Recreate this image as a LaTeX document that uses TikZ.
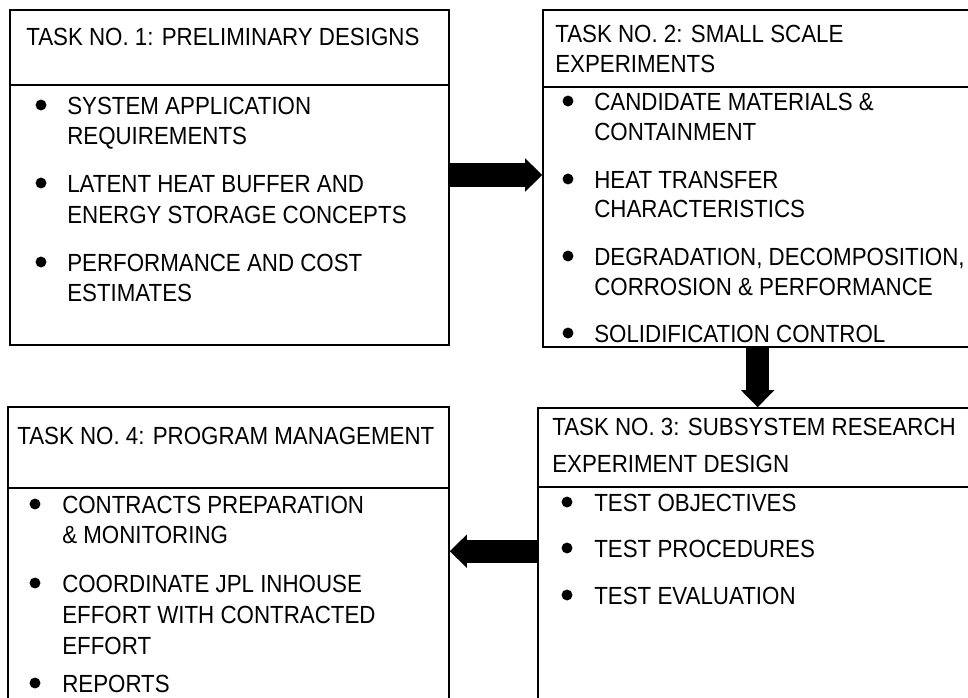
\documentclass[tikz,border=0pt]{standalone}
\usepackage{fontspec}
\setmainfont[FakeStretch=0.9]{Liberation Sans}
\usetikzlibrary{arrows.meta,positioning,fit}
\tikzset{
  >=Stealth,
  taskbox/.style={draw,line width=1.2pt,inner sep=0pt},
  txt/.style={anchor=base west,inner sep=0pt,font=\fontsize{18.6}{22}\selectfont},
  dot/.style={circle,fill,inner sep=0pt,minimum size=8.2pt},
  bigarrow/.style={line width=17.5pt,-{Triangle[length=12.75pt,width=25pt,line width=0pt]}}
}

\begin{document}
\begin{tikzpicture}[x=0.75pt,y=-0.75pt]
\useasboundingbox (0,0) rectangle (968,697);
\clip (0,0) rectangle (968,697);
% task boxes
\node[taskbox,fit={(10,10)(449,85)}](t1head){};
\node[taskbox,fit={(10,85)(449,345)}](t1body){};
\node[taskbox,fit={(543,10)(1000,87)}](t2head){};
\node[taskbox,fit={(543,87)(1000,347)}](t2body){};
\node[taskbox,fit={(538,408)(1000,487)}](t3head){};
\node[taskbox,fit={(538,487)(1000,760)}](t3body){};
\node[taskbox,fit={(8,407)(449,488)}](t4head){};
\node[taskbox,fit={(8,488)(449,760)}](t4body){};
% task 1
\node[txt](h1)at(26,45){TASK NO. 1: PRELIMINARY DESIGNS};
\node[dot](b11)at(41,105){};
\node[txt](i11)at(67,114){SYSTEM APPLICATION};
\node[txt](i11b)at(67,144){REQUIREMENTS};
\node[dot](b12)at(41,183){};
\node[txt](i12)at(67,192){LATENT HEAT BUFFER AND};
\node[txt](i12b)at(67,223){ENERGY STORAGE CONCEPTS};
\node[dot](b13)at(41,262){};
\node[txt](i13)at(67,271){PERFORMANCE AND COST};
\node[txt](i13b)at(67,301){ESTIMATES};
% task 2
\node[txt](h2)at(555,42){TASK NO. 2: SMALL SCALE};
\node[txt](h2b)at(555,72){EXPERIMENTS};
\node[dot](b21)at(568,101){};
\node[txt](i21)at(594,110){CANDIDATE MATERIALS \&};
\node[txt](i21b)at(594,140){CONTAINMENT};
\node[dot](b22)at(568,179){};
\node[txt](i22)at(594,188){HEAT TRANSFER};
\node[txt](i22b)at(594,217){CHARACTERISTICS};
\node[dot](b23)at(568,256){};
\node[txt](i23)at(594,265){DEGRADATION, DECOMPOSITION,};
\node[txt](i23b)at(594,295){CORROSION \& PERFORMANCE};
\node[dot](b24)at(568,333){};
\node[txt](i24)at(594,342){SOLIDIFICATION CONTROL};
% task 3
\node[txt](h3)at(552,435){TASK NO. 3: SUBSYSTEM RESEARCH};
\node[txt](h3b)at(552,472){EXPERIMENT DESIGN};
\node[dot](b31)at(567,502){};
\node[txt](i31)at(594,511){TEST OBJECTIVES};
\node[dot](b32)at(567,548){};
\node[txt](i32)at(594,557){TEST PROCEDURES};
\node[dot](b33)at(567,595){};
\node[txt](i33)at(594,604){TEST EVALUATION};
% task 4
\node[txt](h4)at(17,444){TASK NO. 4: PROGRAM MANAGEMENT};
\node[dot](b41)at(35,504){};
\node[txt](i41)at(62,513){CONTRACTS PREPARATION};
\node[txt](i41b)at(62,543){\& MONITORING};
\node[dot](b42)at(35,583){};
\node[txt](i42)at(62,592){COORDINATE JPL INHOUSE};
\node[txt](i42b)at(62,623){EFFORT WITH CONTRACTED};
\node[txt](i42c)at(62,654){EFFORT};
\node[dot](b43)at(35,683){};
\node[txt](i43)at(62,692){REPORTS};
% flow arrows
\coordinate(a12)at([yshift=30pt]t1body.east);
\draw[bigarrow](a12)--(a12 -| t2body.west);
\coordinate(a23)at([xshift=161.6pt]t2body.south west);
\draw[bigarrow](a23)--(a23 |- t3head.north);
\coordinate(a34)at([yshift=-48.75pt]t3body.north west);
\draw[bigarrow](a34)--(a34 -| t4body.east);
\end{tikzpicture}
\end{document}
